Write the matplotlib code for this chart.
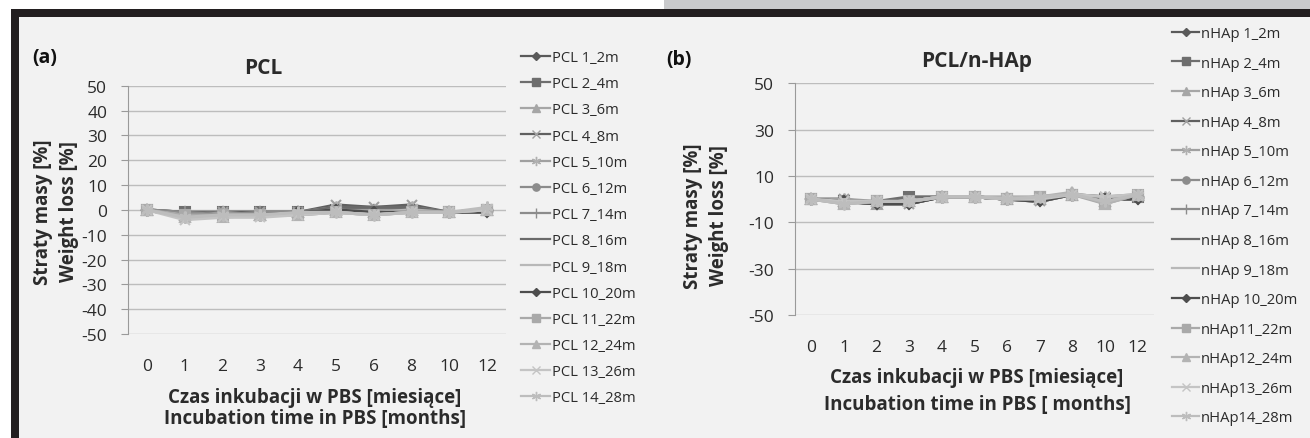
import matplotlib
matplotlib.use("Agg")
import matplotlib.pyplot as plt
from matplotlib.patches import Rectangle
from matplotlib.lines import Line2D

plt.rcParams['font.family'] = ['Open Sans', 'DejaVu Sans']

# ---------------- data ----------------
pcl_months = ["0", "1", "2", "3", "4", "5", "6", "8", "10", "12"]
pcl_labels = ["PCL 1_2m", "PCL 2_4m", "PCL 3_6m", "PCL 4_8m", "PCL 5_10m", "PCL 6_12m",
              "PCL 7_14m", "PCL 8_16m", "PCL 9_18m", "PCL 10_20m", "PCL 11_22m",
              "PCL 12_24m", "PCL 13_26m", "PCL 14_28m"]
pcl_s1 = [0, -1, -1, -1, -1, 0, 0, 0, -1, 0]
pcl_s2 = [0, -1, -1, -1, -1, 0, -1, 0, -1, 0]
pcl_s3 = [0, -2, -1, -2, -1, 0, -1, 0, -1, 0]
pcl_s4 = [0, -2, -1, -1, -1, 2, 1, 2, -1, 0]
pcl_s5 = [0, -3, -1, -2, -1, 1, 0, 1, -1, 0]
pcl_s6 = [0, -2, -2, -2, -1, 0, -1, 0, -1, 0]
pcl_s7 = [0, -1, -2, -1, -1, 0, -1, 0, -1, 0]
pcl_s8 = [0, -2, -2, -2, -1, 1, 1, 1, -1, 0]
pcl_s9 = [0, -3, -2, -2, -1, 0, -1, 0, -1, 0]
pcl_s10 = [0, -3, -2, -2, -1, 0, -1, -1, -1, -1]
pcl_s11 = [0, -2, -2, -2, -2, -1, -2, -1, -1, 0]
pcl_s12 = [0, -3, -3, -2, -2, -1, -2, -1, -1, 0]
pcl_s13 = [0, -4, -3, -3, -2, -1, -2, -1, -1, 0]
pcl_s14 = [0, -3, -2, -2, -1, -1, -2, -1, -1, 1]

hap_months = ["0", "1", "2", "3", "4", "5", "6", "7", "8", "10", "12"]
hap_labels = ["nHAp 1_2m", "nHAp 2_4m", "nHAp 3_6m", "nHAp 4_8m", "nHAp 5_10m", "nHAp 6_12m",
              "nHAp 7_14m", "nHAp 8_16m", "nHAp 9_18m", "nHAp 10_20m", "nHAp11_22m",
              "nHAp12_24m", "nHAp13_26m", "nHAp14_28m"]
hap_s1 = [0, -1, -2, -1, 1, 1, 0, 0, 2, 0, 1]
hap_s2 = [0, -1, -1, 1, 1, 1, 0, 1, 2, 0, 1]
hap_s3 = [0, -1, -2, -1, 1, 1, 0, 0, 2, -1, 2]
hap_s4 = [0, 0, -2, -2, 1, 1, 0, -1, 2, 1, 1]
hap_s5 = [0, 0, -1, -1, 1, 1, 0, 0, 2, 1, 2]
hap_s6 = [0, -1, -1, -1, 1, 1, 0, 0, 2, 0, 1]
hap_s7 = [0, -1, -2, -2, 1, 1, 0, -1, 2, 0, 0]
hap_s8 = [0, -1, -2, -2, 1, 1, 0, 0, 2, 0, 1]
hap_s9 = [0, -1, -1, -1, 1, 1, 0, 0, 2, 0, 1]
hap_s10 = [0, -1, -2, -2, 1, 1, 0, -1, 2, 0, 0]
hap_s11 = [0, -2, -1, -1, 1, 1, 0, 1, 2, -2, 2]
hap_s12 = [0, -2, -1, -1, 1, 1, 1, 1, 3, -2, 2]
hap_s13 = [0, -1, -1, -1, 1, 1, 0, 0, 2, 1, 2]
hap_s14 = [0, -2, -1, -1, 1, 1, 0, 1, 2, -1, 2]

pcl_series = [pcl_s1, pcl_s2, pcl_s3, pcl_s4, pcl_s5, pcl_s6, pcl_s7,
              pcl_s8, pcl_s9, pcl_s10, pcl_s11, pcl_s12, pcl_s13, pcl_s14]
hap_series = [hap_s1, hap_s2, hap_s3, hap_s4, hap_s5, hap_s6, hap_s7,
              hap_s8, hap_s9, hap_s10, hap_s11, hap_s12, hap_s13, hap_s14]

# ---------------- styles ----------------
styles = [
    dict(color="#5a5a5a", marker="D", ms=4.0, mfc="#5a5a5a", mec="#5a5a5a"),
    dict(color="#6e6e6e", marker="s", ms=5.5, mfc="#6e6e6e", mec="#6e6e6e"),
    dict(color="#a6a6a6", marker="^", ms=6.0, mfc="#a6a6a6", mec="#a6a6a6"),
    dict(color="#606060", marker="x", ms=6.0, mfc="#a0a0a0", mec="#a0a0a0"),
    dict(color="#a0a0a0", marker=(6, 2, 0), ms=7.0, mfc="#b0b0b0", mec="#b0b0b0"),
    dict(color="#8c8c8c", marker="o", ms=5.5, mfc="#8c8c8c", mec="#8c8c8c"),
    dict(color="#8c8c8c", marker="|", ms=7.0, mfc="#8c8c8c", mec="#8c8c8c"),
    dict(color="#6a6a6a", marker=None, ms=0, mfc="none", mec="none"),
    dict(color="#b8b8b8", marker=None, ms=0, mfc="none", mec="none"),
    dict(color="#4d4d4d", marker="D", ms=4.0, mfc="#4d4d4d", mec="#4d4d4d"),
    dict(color="#a9a9a9", marker="s", ms=5.5, mfc="#a9a9a9", mec="#a9a9a9"),
    dict(color="#b3b3b3", marker="^", ms=6.0, mfc="#b3b3b3", mec="#b3b3b3"),
    dict(color="#c4c4c4", marker="x", ms=6.0, mfc="#c4c4c4", mec="#c4c4c4"),
    dict(color="#bdbdbd", marker=(6, 2, 0), ms=7.0, mfc="#bdbdbd", mec="#bdbdbd"),
]

W, H = 1310, 439
fig = plt.figure(figsize=(W / 100, H / 100), dpi=100)
fig.patch.set_facecolor("white")

def frac_rect(x0, y0, x1, y1):
    return (x0 / W, 1 - y1 / H, (x1 - x0) / W, (y1 - y0) / H)

# background / frame
bg = fig.add_axes([0, 0, 1, 1], zorder=-10)
bg.set_xlim(0, W); bg.set_ylim(H, 0); bg.axis("off")
bg.add_patch(Rectangle((664, 0), W - 664, 11, color="#c9cacc", lw=0))
bg.add_patch(Rectangle((11, 10), W - 11, H - 10, color="#231f20", lw=0))
bg.add_patch(Rectangle((19, 18), W - 19, H - 18, color="#f2f2f2", lw=0))

TXT = "#2b2b2b"
GRID = "#bdbdbd"
TICK_FS = 12.5
LAB_FS = 13.5

def style_axes(ax, months, ticks):
    ax.set_facecolor("none")
    ax.set_xlim(-0.5, len(months) - 0.5)
    ax.set_ylim(-50, 50)
    ax.set_yticks(ticks)
    ax.set_yticklabels([str(t) for t in ticks], fontsize=TICK_FS, color=TXT)
    ax.set_xticks(range(len(months)))
    ax.set_xticklabels(months, fontsize=TICK_FS, color=TXT)
    ax.yaxis.grid(True, color=GRID, lw=1.0)
    ax.set_axisbelow(True)
    for s in ["top", "right", "bottom"]:
        ax.spines[s].set_visible(False)
    ax.spines["left"].set_color("#9a9a9a")
    ax.tick_params(axis="y", length=5, color="#9a9a9a", pad=10)
    ax.tick_params(axis="x", length=0, pad=17)

def draw(ax, months, series, labels):
    xs = list(range(len(months)))
    for vals, lab, st in zip(series, labels, styles):
        ax.plot(xs, vals, color=st["color"], lw=2.2, marker=st["marker"],
                ms=st["ms"] + 1.5, mfc=st["mfc"], mec=st["mec"], mew=1.5,
                label=lab, clip_on=False)
    proxies = [Line2D([], [], color=st["color"], lw=1.6, marker=st["marker"],
                      ms=st["ms"] * 0.95, mfc=st["mfc"], mec=st["mec"], mew=1.0)
               for st in styles]
    return proxies

def labels(ax, xl, yl, xc, xy, xls, yc, yy, yls):
    ax.set_xlabel(xl, fontsize=LAB_FS, fontweight="bold", color=TXT,
                  linespacing=xls, va="center", ha="center")
    ax.xaxis.set_label_coords(*ax.transAxes.inverted().transform(
        fig.transFigure.transform((xc / W, 1 - xy / H))))
    ax.set_ylabel(yl, fontsize=LAB_FS, fontweight="bold", color=TXT,
                  linespacing=yls, va="center", ha="center")
    ax.yaxis.set_label_coords(*ax.transAxes.inverted().transform(
        fig.transFigure.transform((yc / W, 1 - yy / H))))

# ---------------- panel (a) ----------------
axa = fig.add_axes(frac_rect(128, 86.7, 506, 335))
style_axes(axa, pcl_months, list(range(-50, 51, 10)))
ha = draw(axa, pcl_months, pcl_series, pcl_labels)
labels(axa, "Czas inkubacji w PBS [miesiące]\nIncubation time in PBS [months]",
       "Straty masy [%]\nWeight loss [%]", 315, 408.5, 1.1, 56, 212, 1.45)
fig.text(263 / W, 1 - 68 / H, "PCL", fontsize=15, fontweight="bold", color=TXT,
         ha="center", va="center")
fig.text(32 / W, 1 - 58 / H, "(a)", fontsize=14, fontweight="bold", color="#111111",
         ha="left", va="center")
fig.legend(handles=ha, labels=pcl_labels, loc="upper left",
           bbox_to_anchor=(521 / W, 1 - 51 / H),
           frameon=False, fontsize=10.6, labelcolor=TXT, handlelength=2.0,
           handletextpad=0.1, labelspacing=0.76, borderaxespad=0, borderpad=0)

# ---------------- panel (b) ----------------
axb = fig.add_axes(frac_rect(795, 84.3, 1154, 316))
style_axes(axb, hap_months, list(range(-50, 51, 20)))
hb = draw(axb, hap_months, hap_series, hap_labels)
labels(axb, "Czas inkubacji w PBS [miesiące]\nIncubation time in PBS [ months]",
       "Straty masy [%]\nWeight loss [%]", 977, 391.5, 1.5, 706, 216, 1.45)
fig.text(977 / W, 1 - 62 / H, "PCL/n-HAp", fontsize=15, fontweight="bold", color=TXT,
         ha="center", va="center")
fig.text(666 / W, 1 - 60 / H, "(b)", fontsize=14, fontweight="bold", color="#111111",
         ha="left", va="center")
fig.legend(handles=hb, labels=hap_labels, loc="upper left",
           bbox_to_anchor=(1172 / W, 1 - 27 / H),
           frameon=False, fontsize=10.6, labelcolor=TXT, handlelength=1.85,
           handletextpad=0.1, labelspacing=0.99, borderaxespad=0, borderpad=0)

fig.savefig("out.png", dpi=100)
